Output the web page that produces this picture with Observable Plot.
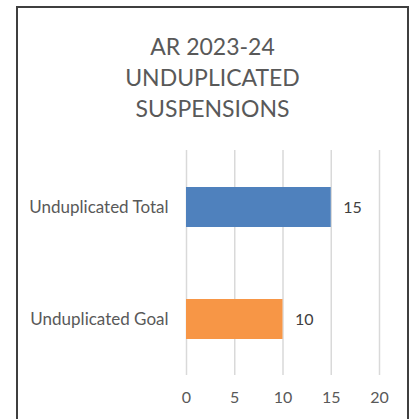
<!DOCTYPE html>
<html>
<head>
<meta charset="utf-8">
<script src="https://cdn.jsdelivr.net/npm/d3@7"></script>
<script src="https://cdn.jsdelivr.net/npm/@observablehq/plot@0.6"></script>
<style>
  html, body { margin: 0; padding: 0; background: #fff; }
  #wrap { position: relative; width: 412px; height: 419px; overflow: hidden; font-family: Lato, "Open Sans", sans-serif; }
  #frame { position: absolute; left: 16px; top: 6px; width: 393px; height: 430px; border: 2px solid #3f3f3f; box-sizing: border-box; }
  #title { position: absolute; left: 16px; width: 393px; top: 31px; text-align: center; font-size: 23px; line-height: 31px; color: #595959; }
  #chart { position: absolute; left: 0; top: 140px; }
</style>
</head>
<body>
<div id="wrap">
  <div id="frame"></div>
  <div id="title">AR 2023-24<br>UNDUPLICATED<br>SUSPENSIONS</div>
  <div id="chart"></div>
</div>
<script>
const categories = ["Unduplicated Total", "Unduplicated Goal"];
const values = [15, 10];
const colors = ["#4F81BD", "#F79646"];
const xTicks = [0, 5, 10, 15, 20];

const data = categories.map((c, i) => ({category: c, value: values[i], color: colors[i]}));

const chart = Plot.plot({
  width: 412,
  height: 279,
  marginLeft: 186,
  marginRight: 33,
  marginTop: 10,
  marginBottom: 44,
  style: {fontFamily: "Lato, 'Open Sans', sans-serif", color: "#595959", background: "transparent"},
  x: {domain: [0, 20], ticks: xTicks, label: null},
  y: {domain: categories, padding: 0, label: null},
  marks: [
    Plot.gridX(xTicks, {stroke: "#d9d9d9", strokeOpacity: 1, strokeWidth: 1.5}),
    Plot.barX(data, {x: "value", y: "category", fill: "color", insetTop: 36, insetBottom: 36}),
    Plot.text(data, {x: "value", y: "category", text: d => String(d.value), textAnchor: "start", dx: 12, fontSize: 16, fill: "#404040"}),
    Plot.axisX(xTicks, {tickSize: 0, tickPadding: 16, fontSize: 16, fill: "#595959", label: null}),
    Plot.axisY({tickSize: 0, tickPadding: 18, fontSize: 17, fill: "#595959", label: null})
  ]
});
document.getElementById("chart").appendChild(chart);
</script>
</body>
</html>
